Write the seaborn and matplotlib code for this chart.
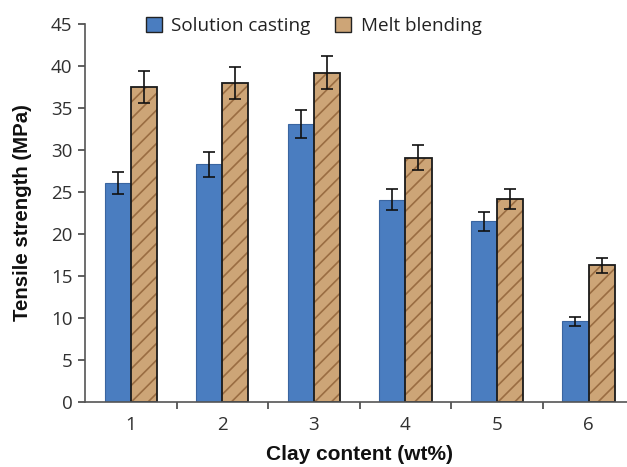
import matplotlib
matplotlib.use("Agg")
import matplotlib.pyplot as plt
import matplotlib.colors as mcolors
import seaborn as sns
import pandas as pd
import numpy as np
from matplotlib.ticker import FixedLocator

categories = ["1", "2", "3", "4", "5", "6"]
solution_casting = [26.1, 28.3, 33.1, 24.1, 21.5, 9.6]
solution_err = [1.3, 1.5, 1.65, 1.2, 1.1, 0.5]
melt_blending = [37.5, 38.0, 39.2, 29.1, 24.2, 16.3]
melt_err = [1.9, 1.9, 1.95, 1.5, 1.2, 0.9]
series_names = ["Solution casting", "Melt blending"]

df = pd.DataFrame({
    "clay": categories * 2,
    "value": solution_casting + melt_blending,
    "err": solution_err + melt_err,
    "series": [series_names[0]] * 6 + [series_names[1]] * 6,
})

sns.set_style("white")
plt.rcParams["font.family"] = ["Open Sans", "DejaVu Sans"]
plt.rcParams["hatch.linewidth"] = 1.2

fig = plt.figure(figsize=(6.27, 4.67), dpi=100)
ax = fig.add_axes([0.1356, 0.1392, 0.876, 0.8094])

palette = {series_names[0]: "#4a7dc0", series_names[1]: "#cda577"}
sns.barplot(data=df, x="clay", y="value", hue="series", palette=palette,
            width=0.57, errorbar=None, ax=ax, saturation=1, legend=True)

n = len(categories)
bars = [p for p in ax.patches if p.get_height() > 0][:2 * n]
for i, p in enumerate(bars):
    if i < n:
        p.set_edgecolor("#3a65a0")
        p.set_linewidth(0.8)
    else:
        p.set_edgecolor("#1a1a1a")
        p.set_linewidth(1.3)
        p.set_hatch("//")
        p._hatch_color = mcolors.to_rgba("#9a6d42")

xs_s = [bars[i].get_x() + bars[i].get_width() / 2 for i in range(n)]
xs_m = [bars[n + i].get_x() + bars[n + i].get_width() / 2 for i in range(n)]
ax.errorbar(xs_s, solution_casting, yerr=solution_err, fmt="none",
            ecolor="#111111", elinewidth=1.2, capsize=4, capthick=1.2, zorder=5)
ax.errorbar(xs_m, melt_blending, yerr=melt_err, fmt="none",
            ecolor="#111111", elinewidth=1.2, capsize=4, capthick=1.2, zorder=5)

ax.set_ylim(0, 45)
ax.set_yticks(np.arange(0, 46, 5))
ax.set_xlim(-0.5, n - 0.5)
ax.set_xticks(range(n))
ax.set_xticklabels(categories)
ax.xaxis.set_minor_locator(FixedLocator([i + 0.5 for i in range(n - 1)]))
ax.tick_params(axis="x", which="major", length=0, pad=10, labelsize=13.5)
ax.tick_params(axis="x", which="minor", length=5, width=1.2, direction="out", color="#444444", bottom=True)
ax.tick_params(axis="y", which="major", length=5, width=1.2, direction="out", pad=4,
               labelsize=13.5, left=True, color="#444444")
for lab in ax.get_yticklabels() + ax.get_xticklabels():
    lab.set_color("#303030")

sns.despine(ax=ax, top=True, right=True)
for sp in ["left", "bottom"]:
    ax.spines[sp].set_color("#555555")
    ax.spines[sp].set_linewidth(1.2)

ax.set_xlabel("Clay content (wt%)", fontsize=15, fontweight="bold",
              family=["Liberation Sans", "DejaVu Sans"], labelpad=8, color="#111111")
ax.set_ylabel("Tensile strength (MPa)", fontsize=14.7, fontweight="bold",
              family=["Liberation Sans", "DejaVu Sans"], labelpad=14, color="#111111")

leg = ax.legend(loc="center", bbox_to_anchor=(0.5, 0.945), bbox_transform=fig.transFigure,
                ncol=2, frameon=False, fontsize=13.6, handlelength=0.85, handleheight=0.85,
                handletextpad=0.5, columnspacing=1.3)
for t in leg.get_texts():
    t.set_color("#222222")
for h in leg.legend_handles:
    h.set_edgecolor("#222222")
    h.set_linewidth(1.0)

fig.savefig("out.png", dpi=100)
